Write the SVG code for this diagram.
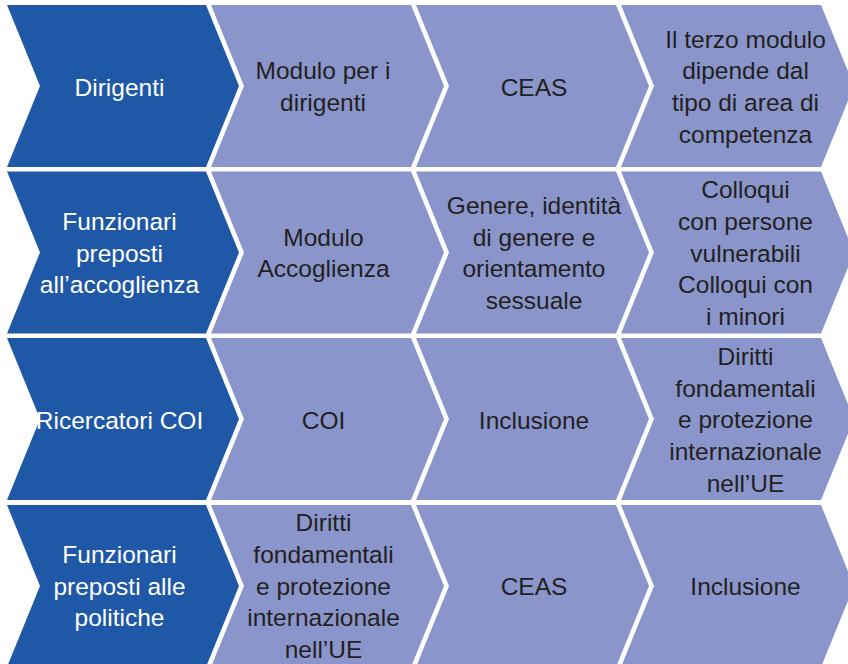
<svg xmlns="http://www.w3.org/2000/svg" width="848" height="664" viewBox="0 0 848 664">
  <style>
    .dark { fill: #1F58A6; }
    .light { fill: #8A96CB; }
    text { font-family: "Liberation Sans", Arial, sans-serif; font-size: 24.5px; text-anchor: middle; }
    .wt { fill: #FFFFFF; }
    .bt { fill: #231F20; }
  </style>
  <rect width="848" height="664" fill="#FFFFFF"/>

  <!-- Row 1 -->
  <g id="r1c1">
    <polygon class="dark" points="7,5 206,5 239,86 206,167 7,167 40,86"/>
    <text class="wt" x="119.5" y="96">Dirigenti</text>
  </g>
  <g id="r1c2">
    <polygon class="light" points="211,5 411,5 444,86 411,167 211,167 244,86"/>
    <text class="bt" x="323" y="79">Modulo per i</text>
    <text class="bt" x="323" y="111">dirigenti</text>
  </g>
  <g id="r1c3">
    <polygon class="light" points="416,5 616,5 649,86 616,167 416,167 449,86"/>
    <text class="bt" x="534" y="96">CEAS</text>
  </g>
  <g id="r1c4">
    <polygon class="light" points="621,5 821,5 854,86 821,167 621,167 654,86"/>
    <text class="bt" x="745.5" y="47.5">Il terzo modulo</text>
    <text class="bt" x="745.5" y="79.2">dipende dal</text>
    <text class="bt" x="745.5" y="110.9">tipo di area di</text>
    <text class="bt" x="745.5" y="142.6">competenza</text>
  </g>

  <!-- Row 2 -->
  <g id="r2c1">
    <polygon class="dark" points="7,171.5 206,171.5 239,252.5 206,333.5 7,333.5 40,252.5"/>
    <text class="wt" x="119.5" y="230">Funzionari</text>
    <text class="wt" x="119.5" y="261.7">preposti</text>
    <text class="wt" x="119.5" y="293.4">all’accoglienza</text>
  </g>
  <g id="r2c2">
    <polygon class="light" points="211,171.5 411,171.5 444,252.5 411,333.5 211,333.5 244,252.5"/>
    <text class="bt" x="323.5" y="245.6">Modulo</text>
    <text class="bt" x="323.5" y="277.3">Accoglienza</text>
  </g>
  <g id="r2c3">
    <polygon class="light" points="416,171.5 616,171.5 649,252.5 616,333.5 416,333.5 449,252.5"/>
    <text class="bt" x="534" y="214">Genere, identità</text>
    <text class="bt" x="534" y="245.7">di genere e</text>
    <text class="bt" x="534" y="277.4">orientamento</text>
    <text class="bt" x="534" y="309.1">sessuale</text>
  </g>
  <g id="r2c4">
    <polygon class="light" points="621,171.5 821,171.5 854,252.5 821,333.5 621,333.5 654,252.5"/>
    <text class="bt" x="745.5" y="198.3">Colloqui</text>
    <text class="bt" x="745.5" y="230">con persone</text>
    <text class="bt" x="745.5" y="261.7">vulnerabili</text>
    <text class="bt" x="745.5" y="293.4">Colloqui con</text>
    <text class="bt" x="745.5" y="325.1">i minori</text>
  </g>

  <!-- Row 3 -->
  <g id="r3c1">
    <polygon class="dark" points="7,338 206,338 239,419 206,500 7,500 40,419"/>
    <text class="wt" x="119.5" y="428.5">Ricercatori COI</text>
  </g>
  <g id="r3c2">
    <polygon class="light" points="211,338 411,338 444,419 411,500 211,500 244,419"/>
    <text class="bt" x="323.5" y="428.5">COI</text>
  </g>
  <g id="r3c3">
    <polygon class="light" points="416,338 616,338 649,419 616,500 416,500 449,419"/>
    <text class="bt" x="534" y="428.5">Inclusione</text>
  </g>
  <g id="r3c4">
    <polygon class="light" points="621,338 821,338 854,419 821,500 621,500 654,419"/>
    <text class="bt" x="745.5" y="364.8">Diritti</text>
    <text class="bt" x="745.5" y="396.5">fondamentali</text>
    <text class="bt" x="745.5" y="428.2">e protezione</text>
    <text class="bt" x="745.5" y="459.9">internazionale</text>
    <text class="bt" x="745.5" y="491.6">nell’UE</text>
  </g>

  <!-- Row 4 -->
  <g id="r4c1">
    <polygon class="dark" points="7,505 206,505 239,586 206,667 7,667 40,586"/>
    <text class="wt" x="119.5" y="563">Funzionari</text>
    <text class="wt" x="119.5" y="594.7">preposti alle</text>
    <text class="wt" x="119.5" y="626.4">politiche</text>
  </g>
  <g id="r4c2">
    <polygon class="light" points="211,505 411,505 444,586 411,667 211,667 244,586"/>
    <text class="bt" x="323.5" y="531.3">Diritti</text>
    <text class="bt" x="323.5" y="563">fondamentali</text>
    <text class="bt" x="323.5" y="594.7">e protezione</text>
    <text class="bt" x="323.5" y="626.4">internazionale</text>
    <text class="bt" x="323.5" y="658.1">nell’UE</text>
  </g>
  <g id="r4c3">
    <polygon class="light" points="416,505 616,505 649,586 616,667 416,667 449,586"/>
    <text class="bt" x="534" y="595">CEAS</text>
  </g>
  <g id="r4c4">
    <polygon class="light" points="621,505 821,505 854,586 821,667 621,667 654,586"/>
    <text class="bt" x="745.5" y="595">Inclusione</text>
  </g>

  <g id="connectors"/>
</svg>
